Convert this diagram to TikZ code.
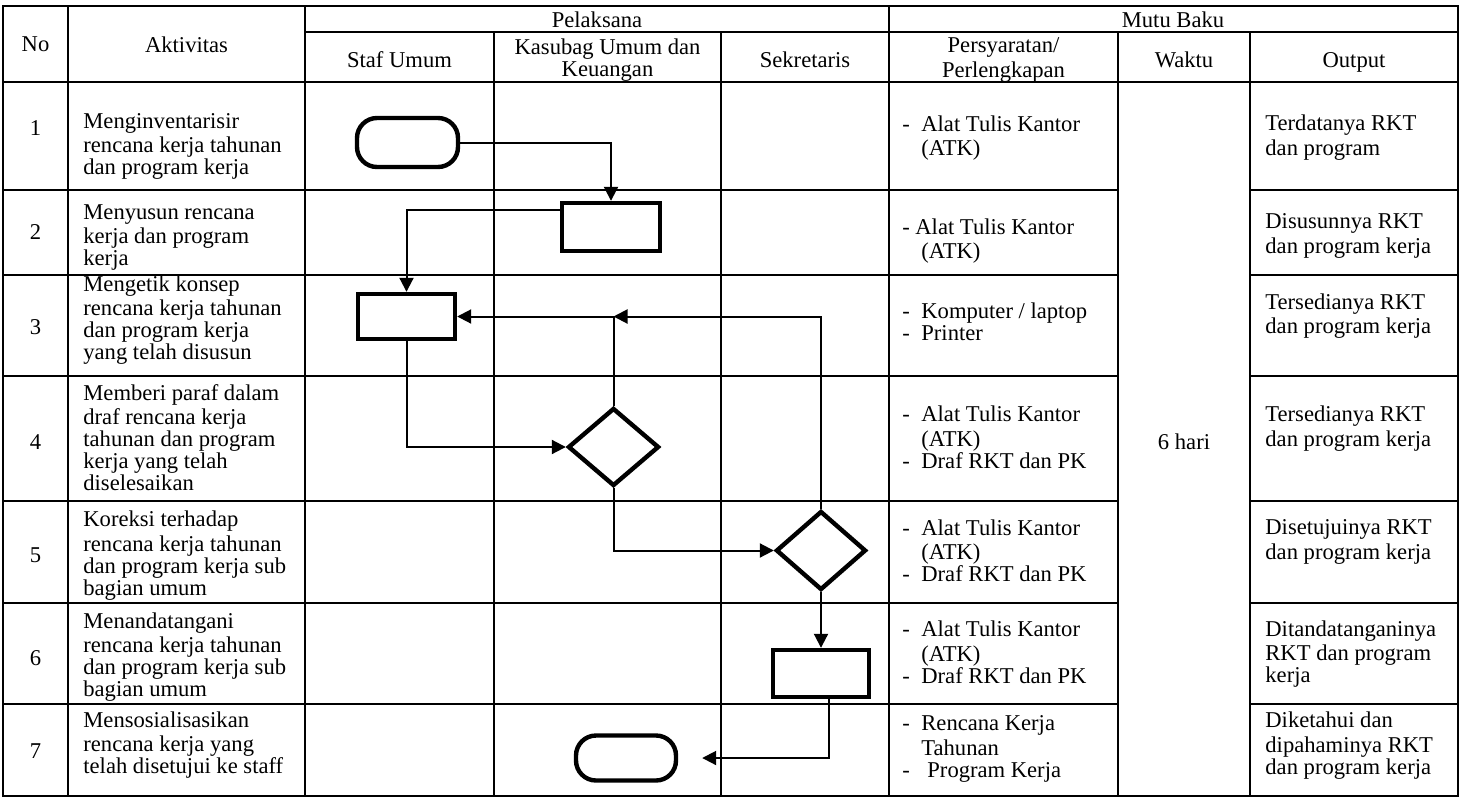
\documentclass[tikz,border=0pt]{standalone}
\usepackage{fontspec}
\setmainfont{Liberation Serif}
\usetikzlibrary{shapes.geometric,arrows.meta}
\newcommand{\mydash}[1]{\makebox[#1][l]{-}}
\begin{document}
\begin{tikzpicture}[x=0.5pt,y=-0.5pt,
  grid/.style={line width=1.2pt},
  conn/.style={line width=1pt},
  arr/.style={conn,-{Triangle[length=7pt,width=7pt]}},
  proc/.style={draw,line width=2.2pt,rectangle,inner sep=0pt},
  term/.style={draw,line width=2.2pt,rectangle,rounded corners=10pt,inner sep=0pt},
  dec/.style={draw,line width=2.2pt,diamond,inner sep=0pt},
  txt/.style={font=\fontsize{11.3}{11}\selectfont,inner sep=0pt,align=left,anchor=west},
  ctxt/.style={font=\fontsize{11.3}{11}\selectfont,inner sep=0pt,align=center}
]
\useasboundingbox (0,0) rectangle (1466,798);
% ---------- table grid ----------
\draw[grid] (3,6) rectangle (1458,796);
\draw[grid] (68,6) -- (68,796);
\draw[grid] (305,6) -- (305,796);
\draw[grid] (889,6) -- (889,796);
\draw[grid] (494,32) -- (494,796);
\draw[grid] (721,32) -- (721,796);
\draw[grid] (1118,32) -- (1118,796);
\draw[grid] (1250,32) -- (1250,796);
\draw[grid] (305,32) -- (1458,32);
\draw[grid] (3,82) -- (1458,82);
\foreach \yy in {190,275,376,501,603,704}{
  \draw[grid] (3,\yy) -- (1118,\yy);
  \draw[grid] (1250,\yy) -- (1458,\yy);
}
% ---------- header ----------
\node[ctxt] (hPel) at (597,22.5) {\strut Pelaksana};
\node[ctxt] (hMut) at (1173,22.5) {\strut Mutu Baku};
\node[ctxt] (hNo) at (35.5,47.5) {\strut No};
\node[ctxt] (hAkt) at (186.5,47.5) {\strut Aktivitas};
\node[ctxt] (hStaf) at (399.5,63) {\strut Staf Umum};
\node[ctxt] (hKas) at (607.5,60.5) {\strut Kasubag Umum dan\\Keuangan\strut};
\node[ctxt] (hSek) at (805,63) {\strut Sekretaris};
\node[ctxt] (hPer) at (1003.5,60.5) {\strut Persyaratan/\\Perlengkapan\strut};
\node[ctxt] (hWak) at (1184,63) {\strut Waktu};
\node[ctxt] (hOut) at (1354,63) {\strut Output};
% ---------- numbers ----------
\node[ctxt] (n1) at (35.5,131.5) {\strut 1};
\node[ctxt] (n2) at (35.5,235.5) {\strut 2};
\node[ctxt] (n3) at (35.5,330.5) {\strut 3};
\node[ctxt] (n4) at (35.5,445) {\strut 4};
\node[ctxt] (n5) at (35.5,558) {\strut 5};
\node[ctxt] (n6) at (35.5,661) {\strut 6};
\node[ctxt] (n7) at (35.5,754.5) {\strut 7};
% ---------- aktivitas ----------
\node[txt] (a1) at (83,147) {\strut Menginventarisir\\rencana kerja tahunan\\dan program kerja\strut};
\node[txt] (a2) at (83,238) {\strut Menyusun rencana\\kerja dan program\\kerja\strut};
\node[txt] (a3) at (83,321) {\strut Mengetik konsep\\rencana kerja tahunan\\dan program kerja\\yang telah disusun\strut};
\node[txt] (a4) at (83,441) {\strut Memberi paraf dalam\\draf rencana kerja\\tahunan dan program\\kerja yang telah\\diselesaikan\strut};
\node[txt] (a5) at (83,556.5) {\strut Koreksi terhadap\\rencana kerja tahunan\\dan program kerja sub\\bagian umum\strut};
\node[txt] (a6) at (83,658) {\strut Menandatangani\\rencana kerja tahunan\\dan program kerja sub\\bagian umum\strut};
\node[txt] (a7) at (83,746) {\strut Mensosialisasikan\\rencana kerja yang\\telah disetujui ke staff\strut};
% ---------- persyaratan ----------
\node[txt] (p1) at (902,139) {\strut\mydash{9.5pt}Alat Tulis Kantor\\\hspace*{9.5pt}(ATK)\strut};
\node[txt] (p2) at (902,242) {\strut\mydash{6.5pt}Alat Tulis Kantor\\\hspace*{9.5pt}(ATK)\strut};
\node[txt] (p3) at (902,325) {\strut\mydash{9.5pt}Komputer / laptop\\\mydash{9.5pt}Printer\strut};
\node[txt] (p4) at (902,440.5) {\strut\mydash{9.5pt}Alat Tulis Kantor\\\hspace*{9.5pt}(ATK)\\\mydash{9.5pt}Draf RKT dan PK\strut};
\node[txt] (p5) at (902,554) {\strut\mydash{9.5pt}Alat Tulis Kantor\\\hspace*{9.5pt}(ATK)\\\mydash{9.5pt}Draf RKT dan PK\strut};
\node[txt] (p6) at (902,655.5) {\strut\mydash{9.5pt}Alat Tulis Kantor\\\hspace*{9.5pt}(ATK)\\\mydash{9.5pt}Draf RKT dan PK\strut};
\node[txt] (p7) at (902,749.5) {\strut\mydash{9.5pt}Rencana Kerja\\\hspace*{9.5pt}Tahunan\\\mydash{12.5pt}Program Kerja\strut};
% ---------- waktu ----------
\node[ctxt] (wk) at (1184,445) {\strut 6 hari};
% ---------- output ----------
\node[txt] (o1) at (1265,138.5) {\strut Terdatanya RKT\\dan program\strut};
\node[txt] (o2) at (1265,236.5) {\strut Disusunnya RKT\\dan program kerja\strut};
\node[txt] (o3) at (1265,317) {\strut Tersedianya RKT\\dan program kerja\strut};
\node[txt] (o4) at (1265,429.5) {\strut Tersedianya RKT\\dan program kerja\strut};
\node[txt] (o5) at (1265,542.5) {\strut Disetujuinya RKT\\dan program kerja\strut};
\node[txt] (o6) at (1265,655) {\strut Ditandatanganinya\\RKT dan program\\kerja\strut};
\node[txt] (o7) at (1265,746.5) {\strut Diketahui dan\\dipahaminya RKT\\dan program kerja\strut};
% ---------- flow shapes ----------
\node[term,minimum width=50.5pt,minimum height=24.5pt] (st) at (407.5,142.5) {};
\node[proc,minimum width=49pt,minimum height=24pt] (r2) at (611,227) {};
\node[proc,minimum width=48.5pt,minimum height=22.5pt] (r3) at (406.5,316.5) {};
\node[dec,minimum width=45.5pt,minimum height=39pt] (d4) at (613.5,447) {};
\node[dec,minimum width=45pt,minimum height=39.5pt] (d5) at (821,550.5) {};
\node[proc,minimum width=48pt,minimum height=23.5pt] (r6) at (821,673.5) {};
\node[term,minimum width=50pt,minimum height=22.5pt] (en) at (626,758) {};
% ---------- connectors ----------
\draw[arr] (st.east) -| (r2.north);
\draw[arr] ([yshift=8.5pt]r2.west) -| (r3.north);
\draw[arr] (r3.south) |- (d4.west);
\draw[arr] (d4.north) |- (r3.east);
\draw[arr] (d5.north) |- (d4.north |- r3.east);
\draw[arr] (d4.south) |- (d5.west);
\draw[arr] (d5.south) -- (r6.north);
\draw[arr] ([xshift=4pt]r6.south) |- ([xshift=12pt]en.east);
\end{tikzpicture}
\end{document}
